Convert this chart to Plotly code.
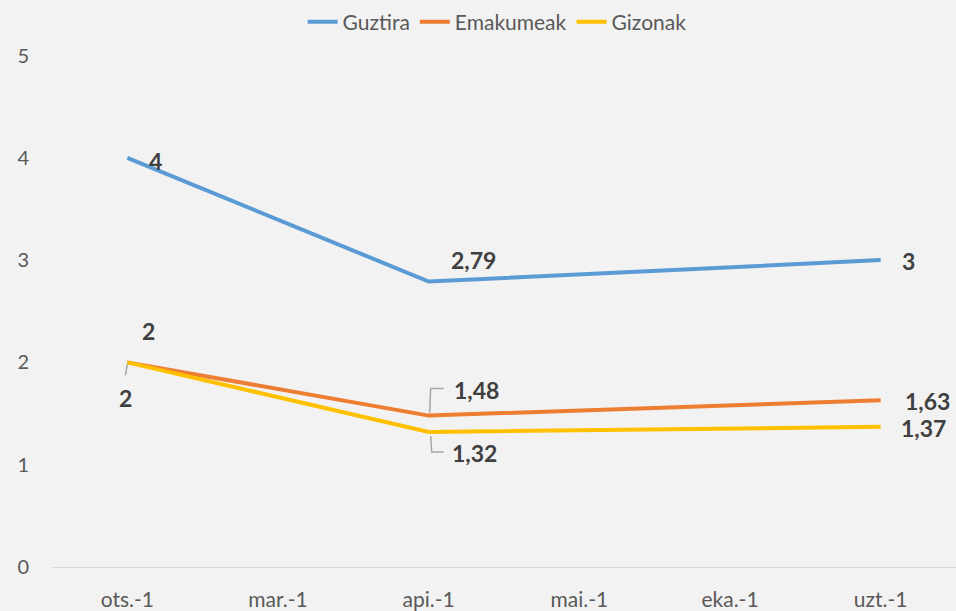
import plotly.graph_objects as go

categories = ["ots.-1", "mar.-1", "api.-1", "mai.-1", "eka.-1", "uzt.-1"]
guztira = [4, None, 2.79, None, None, 3]
emakumeak = [2, None, 1.48, None, None, 1.63]
gizonak = [2, None, 1.32, None, None, 1.37]

series = [
    ("Guztira", guztira, "#5B9BD5"),
    ("Emakumeak", emakumeak, "#ED7D31"),
    ("Gizonak", gizonak, "#FFC000"),
]

# label offsets (pixels) for each series' visible points
offsets = {
    "Guztira": [(28, -3), (45, 22), (28, -1)],
    "Emakumeak": [(21, 31), (48, 26), (47, -1)],
    "Gizonak": [(-2, -36), (46, -21), (43, -1)],
}

def fmt(v):
    s = ("%.2f" % v).rstrip("0").rstrip(".")
    return s.replace(".", ",")

fig = go.Figure()
annotations = []
for name, vals, color in series:
    fig.add_trace(go.Scatter(
        x=categories, y=vals, name=name, mode="lines",
        line=dict(color=color, width=4), connectgaps=True,
    ))
    pts = [(c, v) for c, v in zip(categories, vals) if v is not None]
    for (c, v), (dx, dy) in zip(pts, offsets[name]):
        annotations.append(dict(
            x=c, y=v, text=fmt(v), showarrow=False, xshift=dx, yshift=dy,
            font=dict(family="Lato", size=23, color="#404040", weight="bold"),
        ))

# leader lines (pixel paths anchored at data points)
leaders = [
    (categories[2], emakumeak[2], "M 1,3 L 2,27 L 15,27"),
    (categories[2], gizonak[2], "M 2,-4 L 3,-20 L 15,-20"),
    (categories[0], gizonak[0], "M 0,-2 L -2,-13"),
]
shapes = []
for xa, ya, p in leaders:
    shapes.append(dict(
        type="path", xref="x", yref="y", xsizemode="pixel", ysizemode="pixel",
        xanchor=xa, yanchor=ya, path=p,
        line=dict(color="#A6A6A6", width=1.5),
    ))

fig.update_layout(
    width=956, height=611,
    paper_bgcolor="#F2F2F2", plot_bgcolor="#F2F2F2",
    margin=dict(l=52, r=0, t=50, b=41),
    font=dict(family="Lato", color="#595959", size=21),
    showlegend=True,
    legend=dict(orientation="h", x=0.52, xanchor="center", xref="container",
                y=1 - 22 / 611, yanchor="middle", yref="container",
                font=dict(size=21, color="#595959"), bgcolor="rgba(0,0,0,0)",
                itemclick=False, itemdoubleclick=False),
    annotations=annotations,
    shapes=shapes,
)
fig.update_xaxes(
    type="category", range=[-0.5, 5.5], showgrid=False, zeroline=False,
    showline=True, linecolor="#D9D9D9", linewidth=1,
    ticks="", ticklabelstandoff=14,
    tickfont=dict(size=21, color="#595959"),
)
fig.update_yaxes(
    range=[0, 5], dtick=1, showgrid=False, zeroline=False, showline=False,
    ticks="", ticklabelstandoff=22,
    tickfont=dict(size=20, color="#595959"),
)

fig.write_html("out.html", config={"displayModeBar": False},
               post_script="document.body.style.margin='0';")
